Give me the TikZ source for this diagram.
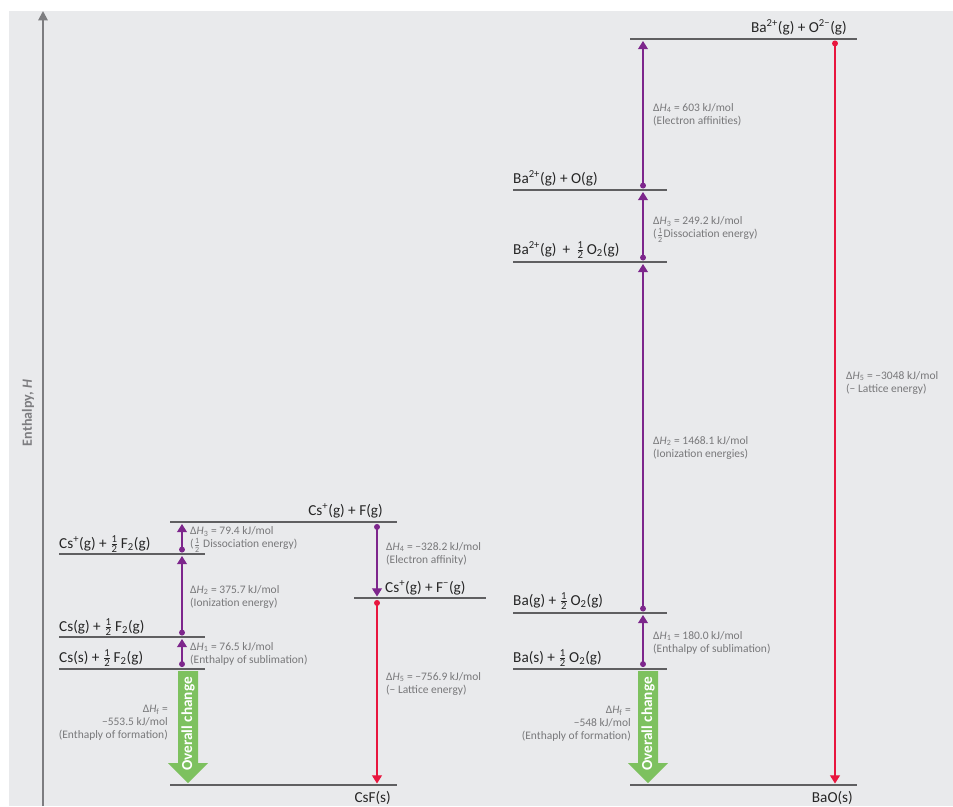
\documentclass[tikz,border=0pt]{standalone}
\usepackage{fontspec}
\usepackage{amsmath}
\setmainfont{Carlito}
\usetikzlibrary{arrows.meta,positioning}
\definecolor{panelgray}{RGB}{233,234,236}
\definecolor{levelgray}{RGB}{95,95,97}
\definecolor{axisgray}{RGB}{125,125,128}
\definecolor{notegray}{RGB}{120,120,122}
\definecolor{stepviolet}{RGB}{125,38,140}
\definecolor{latticered}{RGB}{232,22,62}
\definecolor{overallgreen}{RGB}{125,193,95}
\newcommand{\half}{\ensuremath{\tfrac{\text{1}}{\text{2}}}}
\newcommand{\dH}[1]{Δ\textit{H}\textsubscript{#1}}

\begin{document}
\begin{tikzpicture}[
    x=0.03cm, y=-0.03cm,
    level/.style={draw=levelgray, line width=2.3pt},
    species/.style={inner sep=0pt, text=black!85, font=\fontsize{13}{15}\selectfont},
    note/.style={inner sep=0pt, align=left, text=notegray, font=\fontsize{9.8}{11.1}\selectfont},
    stepline/.style={stepviolet, line width=1.1pt, {Circle[length=5pt]}-{Triangle[width=8.5pt,length=7pt]}},
    lattice/.style={latticered, line width=1.1pt, {Circle[length=5pt]}-{Triangle[width=8.5pt,length=7pt]}},
    axis/.style={axisgray, line width=1.6pt, -{Triangle[width=8pt,length=8pt]}},
    overall/.style={fill=overallgreen},
    overalltext/.style={inner sep=0pt, text=white, font=\fontsize{13}{15}\selectfont\bfseries}
]
\useasboundingbox (0,0) rectangle (953,806);
\fill[panelgray] (9,11) rectangle (953,806);

% Enthalpy axis
\coordinate (axisfoot) at (43,806);
\coordinate (axistop) at (43,11);
\draw[axis] (axisfoot) -- (axistop);
\node[rotate=90, text=axisgray, font=\fontsize{12}{14}\selectfont\bfseries] (enthalpy) at (28,413) {Enthalpy, \textit{H}};

% CsF cycle - levels
\draw[level] (170,522) -- (397,522);
\draw[level] (59,554) -- (205,554);
\draw[level] (59,637) -- (205,637);
\draw[level] (59,669) -- (205,669);
\draw[level] (354,598) -- (486,598);
\draw[level] (170,785) -- (397,785);

\node[species, anchor=base east] (csatoms) at (383,515) {Cs\textsuperscript{+}(g) + F(g)};
\node[species, anchor=base west] (cshalfion) at (59,548) {Cs\textsuperscript{+}(g) + \half\,F\textsubscript{2}(g)};
\node[species, anchor=base west] (csgas) at (59,631) {Cs(g) + \half\,F\textsubscript{2}(g)};
\node[species, anchor=base west] (cssolid) at (59,662) {Cs(s) + \half\,F\textsubscript{2}(g)};
\node[species, anchor=base west] (csions) at (385,592) {Cs\textsuperscript{+}(g) + F\textsuperscript{−}(g)};
\node[species, anchor=base east] (csf) at (391,802) {CsF(s)};

% CsF cycle - steps
\coordinate (cs1a) at (182,667);   \coordinate (cs1b) at (182,639);
\coordinate (cs2a) at (182,635.5); \coordinate (cs2b) at (182,556);
\coordinate (cs3a) at (182,552.5); \coordinate (cs3b) at (182,524);
\coordinate (cs4a) at (377,524);   \coordinate (cs4b) at (377,596.5);
\coordinate (cs5a) at (377,600);   \coordinate (cs5b) at (377,783.5);
\draw[stepline] (cs1a) -- (cs1b);
\draw[stepline] (cs2a) -- (cs2b);
\draw[stepline] (cs3a) -- (cs3b);
\draw[stepline] (cs4a) -- (cs4b);
\draw[lattice] (cs5a) -- (cs5b);

\node[note, anchor=west] (csnote1) at (190,653.5) {\dH{1} = 76.5 kJ/mol\\(Enthalpy of sublimation)};
\node[note, anchor=west] (csnote2) at (190,596.5) {\dH{2} = 375.7 kJ/mol\\(Ionization energy)};
\node[note, anchor=west] (csnote3) at (190,539.5) {\dH{3} = 79.4 kJ/mol\\(\half\ Dissociation energy)};
\node[note, anchor=west] (csnote4) at (386,553.5) {\dH{4} = −328.2 kJ/mol\\(Electron affinity)};
\node[note, anchor=west] (csnote5) at (386,683.5) {\dH{5} = −756.9 kJ/mol\\(− Lattice energy)};
\node[note, anchor=east, align=right] (csnotef) at (168,723) {\dH{f} =\\−553.5 kJ/mol\\(Enthaply of formation)};

\fill[overall] (178,671) -- (198,671) -- (198,763) -- (208,763) -- (188,783) -- (168,763) -- (178,763) -- cycle;
\node[overalltext, rotate=90] (csoverall) at (188,724) {Overall change};

% BaO cycle - levels
\draw[level] (630,39) -- (857,39);
\draw[level] (513,190) -- (667,190);
\draw[level] (513,262) -- (667,262);
\draw[level] (513,613) -- (667,613);
\draw[level] (513,669) -- (667,669);
\draw[level] (630,785) -- (857,785);

\node[species, anchor=base east] (baions) at (847,32) {Ba\textsuperscript{2+}(g) + O\textsuperscript{2−}(g)};
\node[species, anchor=base west] (baoatom) at (513,183) {Ba\textsuperscript{2+}(g) + O(g)};
\node[species, anchor=base west] (bahalfion) at (513,254) {Ba\textsuperscript{2+}(g) \,+\, $\frac{\text{1}}{\text{2}}$\,O\textsubscript{2}(g)};
\node[species, anchor=base west] (bagas) at (513,605) {Ba(g) + \half\,O\textsubscript{2}(g)};
\node[species, anchor=base west] (basolid) at (513,662) {Ba(s) + \half\,O\textsubscript{2}(g)};
\node[species, anchor=base east] (bao) at (853,802) {BaO(s)};

% BaO cycle - steps
\coordinate (ba1a) at (643,667);   \coordinate (ba1b) at (643,615);
\coordinate (ba2a) at (643,611.5); \coordinate (ba2b) at (643,264);
\coordinate (ba3a) at (643,260.5); \coordinate (ba3b) at (643,192);
\coordinate (ba4a) at (643,188.5); \coordinate (ba4b) at (643,41);
\coordinate (ba5a) at (835,40.5);  \coordinate (ba5b) at (835,783.5);
\draw[stepline] (ba1a) -- (ba1b);
\draw[stepline] (ba2a) -- (ba2b);
\draw[stepline] (ba3a) -- (ba3b);
\draw[stepline] (ba4a) -- (ba4b);
\draw[lattice] (ba5a) -- (ba5b);

\node[note, anchor=west] (banote1) at (653,642.5) {\dH{1} = 180.0 kJ/mol\\(Enthalpy of sublimation)};
\node[note, anchor=west] (banote2) at (653,447.5) {\dH{2} = 1468.1 kJ/mol\\(Ionization energies)};
\node[note, anchor=west] (banote3) at (653,229.5) {\dH{3} = 249.2 kJ/mol\\(\half Dissociation energy)};
\node[note, anchor=west] (banote4) at (653,114.5) {\dH{4} = 603 kJ/mol\\(Electron affinities)};
\node[note, anchor=west] (banote5) at (846,382.5) {\dH{5} = −3048 kJ/mol\\(− Lattice energy)};
\node[note, anchor=east, align=right] (banotef) at (631,723.5) {\dH{f} =\\−548 kJ/mol\\(Enthaply of formation)};

\fill[overall] (638,671) -- (658,671) -- (658,763) -- (668,763) -- (648,783) -- (628,763) -- (638,763) -- cycle;
\node[overalltext, rotate=90] (baoverall) at (648,724) {Overall change};

\end{tikzpicture}
\end{document}
